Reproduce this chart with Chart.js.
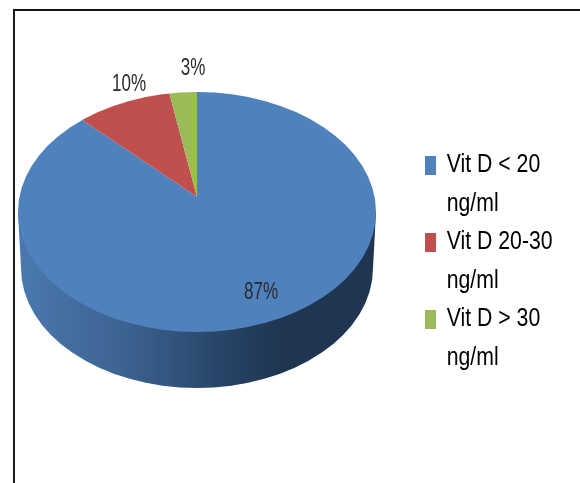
<!DOCTYPE html>
<html>
<head>
<meta charset="utf-8">
<script src="https://cdn.jsdelivr.net/npm/chart.js@4/dist/chart.umd.min.js"></script>
<style>
  html, body { margin: 0; padding: 0; background: #fff; overflow: hidden; }
  #wrap { position: relative; width: 580px; height: 483px; }
  #frame { position: absolute; left: 13px; top: 9px; right: 0; bottom: 0; border-left: 2px solid #1a1a1a; border-top: 2px solid #111; }
  #mycanvas { position: absolute; left: 0; top: 0; }
</style>
</head>
<body>
<div id="wrap">
  <div id="frame"></div>
  <canvas id="mycanvas" width="580" height="483"></canvas>
</div>
<script>
var categories = ['Vit D < 20 ng/ml', 'Vit D 20-30 ng/ml', 'Vit D > 30 ng/ml'];
var legendLines = [['Vit D < 20', 'ng/ml'], ['Vit D 20-30', 'ng/ml'], ['Vit D > 30', 'ng/ml']];
var percents = [87, 10, 3];
var colors = ['#4f81bd', '#c0504d', '#9bbb59'];

// tilted disc: the rim is an ellipse, the wedges meet above its centre
var rim = { x: 197, y: 212, rx: 179, ry: 120 };
var apex = { x: 197, y: 197, squash: 0.715 };
var wall = { x: 197, y: 268, rx: 176, ry: 120 };
var labelSpots = [[261, 293], [129, 85], [193, 69]];
var textFont = '"Liberation Sans", sans-serif';
var textColor = '#2a2a2a';
// the reference text is tall and narrow, no narrow font here so squeeze it
var labelSqueeze = 0.74;
var legendSqueeze = 0.85;
var legendLeft = 425;

var discPlugin = {
  id: 'disc',
  beforeDraw: function(chart) {
    var legend = chart.legend;
    if (legend.squeezed) return;
    var plainDraw = legend.draw;
    legend.draw = function(area) {
      var c = chart.ctx;
      c.save();
      c.translate(legendLeft, 0);
      c.scale(legendSqueeze, 1);
      c.translate(-legend.left, 0);
      plainDraw.call(legend, area);
      c.restore();
    };
    legend.squeezed = true;
  },
  beforeDatasetsDraw: function(chart) {
    var ctx = chart.ctx;
    var arc = chart.getDatasetMeta(0).data[0];

    // side wall first, the top goes over it
    var grad = ctx.createLinearGradient(wall.x - wall.rx, 0, wall.x + wall.rx, 0);
    grad.addColorStop(0, '#4a78ae');
    grad.addColorStop(0.3, '#3c6290');
    grad.addColorStop(0.62, '#243f60');
    grad.addColorStop(0.75, '#1f3550');
    grad.addColorStop(1, '#1f3550');
    ctx.save();
    ctx.fillStyle = grad;
    ctx.beginPath();
    ctx.moveTo(rim.x - rim.rx, rim.y);
    ctx.lineTo(wall.x - wall.rx, wall.y);
    ctx.ellipse(wall.x, wall.y, wall.rx, wall.ry, 0, Math.PI, 0, true);
    ctx.lineTo(rim.x + rim.rx, rim.y);
    ctx.closePath();
    ctx.fill();
    ctx.restore();

    ctx.save();
    ctx.beginPath();
    ctx.ellipse(rim.x, rim.y, rim.rx, rim.ry, 0, 0, Math.PI * 2);
    ctx.clip();
    ctx.translate(apex.x, apex.y);
    ctx.scale(1, apex.squash);
    ctx.translate(-arc.x, -arc.y);
  },
  afterDatasetsDraw: function(chart) {
    var ctx = chart.ctx;
    ctx.restore();

    percents.forEach(function(p, i) {
      ctx.save();
      ctx.translate(labelSpots[i][0], labelSpots[i][1]);
      ctx.scale(labelSqueeze, 1);
      ctx.font = '23px ' + textFont;
      ctx.fillStyle = textColor;
      ctx.textAlign = 'center';
      ctx.textBaseline = 'middle';
      ctx.fillText(p + '%', 0, 0);
      ctx.restore();
    });
  }
};

var ctx = document.getElementById('mycanvas');
var pieChart = new Chart(ctx, {
  type: 'pie',
  data: {
    labels: categories,
    datasets: [{
      data: percents,
      backgroundColor: colors,
      borderWidth: 0
    }]
  },
  options: {
    responsive: false,
    animation: false,
    radius: 195,
    layout: { padding: { top: 153, right: 22, bottom: 0, left: 0 } },
    plugins: {
      tooltip: { enabled: false },
      legend: {
        position: 'right',
        align: 'start',
        labels: {
          boxWidth: 13,
          boxHeight: 19,
          padding: 0,
          color: textColor,
          font: { family: textFont, size: 25, lineHeight: 1.54 },
          generateLabels: function() {
            return legendLines.map(function(lines, i) {
              return { text: lines, fillStyle: colors[i], strokeStyle: colors[i], lineWidth: 0, index: i };
            });
          }
        }
      }
    }
  },
  plugins: [discPlugin]
});
</script>
</body>
</html>
